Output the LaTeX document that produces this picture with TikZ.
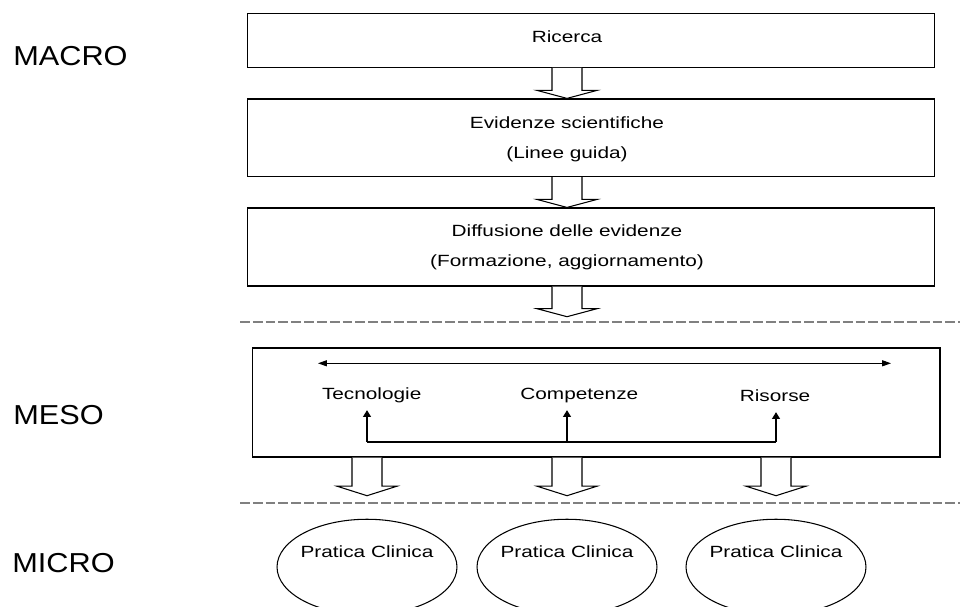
\documentclass[tikz,border=0pt]{standalone}
\usepackage{fontspec}
\newfontfamily\boxfont{Liberation Sans}[FakeStretch=1.28]
\newfontfamily\tierfont{Liberation Sans}[FakeStretch=1.12]
\usepackage{tikz}
\usetikzlibrary{shapes,arrows.meta,calc}

% hollow block arrow: [head length]{start}{tip}
\newcommand{\blockarrow}[3][8]{%
  \draw[hollow] ($(#2)+(-15,0)$) -- ($(#3)+(-15,-#1)$) -- ($(#3)+(-30,-#1)$) -- (#3)
    -- ($(#3)+(30,-#1)$) -- ($(#3)+(15,-#1)$) -- ($(#2)+(15,0)$);}

\begin{document}
\begin{tikzpicture}[x=0.02cm,y=-0.02cm]
      \tikzstyle{box} = [rectangle, draw, line width=0.65pt, minimum width=13.75cm, inner sep=0pt]
      \tikzstyle{txt} = [font={\boxfont\fontsize{9.24}{17}\selectfont}, inner sep=0pt, anchor=base]
      \tikzstyle{res} = [txt, text depth=0pt, inner ysep=5.6pt]
      \tikzstyle{tier} = [font={\tierfont\fontsize{15.6}{18}\selectfont}, inner sep=0pt, anchor=base west]
      \tikzstyle{divider} = [gray, line width=1.1pt, dash pattern=on 5.6pt off 1.7pt]
      \tikzstyle{hollow} = [line width=0.6pt, fill=white]
      \tikzstyle{oval} = [ellipse, draw, line width=0.6pt, minimum width=3.6cm, minimum height=1.91cm, inner sep=0pt]
      \tikzstyle{uparrow} = [line width=0.6pt, -{Triangle[length=3.8pt,width=4.5pt]}]
      \useasboundingbox (0,0) rectangle (960,607);
      \clip (0,0) rectangle (960,607);
      % levels
      \node[tier] (macro) at (13,66) {MACRO};
      \node[tier] (meso) at (13,425) {MESO};
      \node[tier] (micro) at (12,572) {MICRO};
      % macro
      \coordinate (axis) at (567,0);
      \node[box, minimum height=1.08cm] (ricerca) at (591,40.3) {};
      \node[box, minimum height=1.554cm] (evid) at (591,137.8) {};
      \node[box, minimum height=1.56cm] (diff) at (591,247) {};
      \node[txt] (ricT) at (567,42.3) {Ricerca};
      \node[txt] (evidT1) at (567,128.3) {Evidenze scientifiche};
      \node[txt] (evidT2) at (567,158.3) {(Linee guida)};
      \node[txt] (diffT1) at (567,236.7) {Diffusione delle evidenze};
      \node[txt] (diffT2) at (567,266.7) {(Formazione, aggiornamento)};
      \coordinate (a3) at (567,316.7);
      \blockarrow{axis |- ricerca.south}{axis |- evid.north}
      \blockarrow{axis |- evid.south}{axis |- diff.north}
      \blockarrow{axis |- diff.south}{a3}
      % dividers
      \coordinate (d1l) at (240,322.3);
      \coordinate (d1r) at (960,322.3);
      \coordinate (d2l) at (240,503.3);
      \coordinate (d2r) at (960,503.3);
      \draw[divider] (d1l)--(d1r);
      \draw[divider] (d2l)--(d2r);
      % meso
      \node[box, minimum height=2.18cm] (mesobox) at (596.3,402.5) {};
      \coordinate (dl) at (318,363.3);
      \coordinate (dr) at (891,363.3);
      \draw[line width=0.6pt, {Triangle[length=5pt,width=3.4pt]}-{Triangle[length=5pt,width=3.4pt]}] (dl)--(dr);
      \node[res] (tecn) at (371.7,400) {Tecnologie};
      \node[res] (comp) at (579.3,400) {Competenze};
      \node[res] (ris) at (775,402) {Risorse};
      \coordinate (b1) at (367,442);
      \coordinate (b2) at (567,442);
      \coordinate (b3) at (776,442);
      \draw[line width=0.6pt] (b1)--(b3);
      \foreach \p/\q in {b1/tecn, b2/comp, b3/ris}
        \draw[uparrow] (\p)--(\p |- \q.south);
      % micro
      \foreach \i/\x in {1/367, 2/567, 3/776}{
        \coordinate (t\i) at (\x,495.7);
        \blockarrow[9.5]{b\i |- mesobox.south}{t\i}
        \node[oval] (pc\i) at (\x,567) {};
        \node[txt] (pcT\i) at (\x,557.3) {Pratica Clinica};
      }
    \end{tikzpicture}
\end{document}
